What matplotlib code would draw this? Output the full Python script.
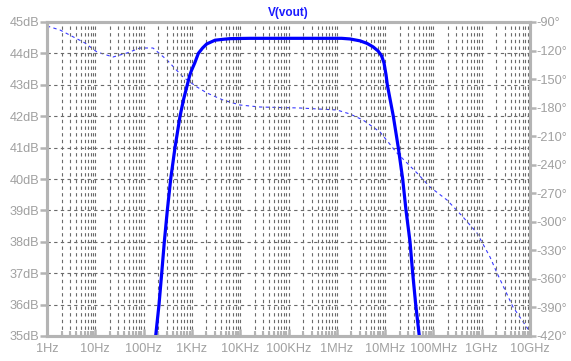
import matplotlib
matplotlib.use("Agg")
import matplotlib.pyplot as plt
import numpy as np
from matplotlib.ticker import FixedLocator, NullFormatter

plt.rcParams["font.family"] = ["Liberation Sans", "DejaVu Sans"]

# ---- data ----
mag_logf = [2.250, 2.319, 2.375, 2.429, 2.491, 2.561, 2.650, 2.754, 2.83, 2.905,
            2.955, 2.99, 3.06, 3.133, 3.22, 3.306, 3.478, 3.65, 3.789, 4.2, 5.24, 6.1,
            6.273, 6.48, 6.625, 6.749, 6.853, 6.925, 6.977, 7.019, 7.046, 7.170, 7.273,
            7.364, 7.433, 7.516, 7.571, 7.634, 7.708]
mag_db = [35.0, 36.0, 37.0, 38.0, 39.0, 40.0, 41.0, 42.0, 42.55, 43.0,
          43.3, 43.45, 43.7, 44.0, 44.17, 44.3, 44.42, 44.45, 44.47, 44.48, 44.48, 44.48,
          44.46, 44.40, 44.32, 44.21, 44.08, 43.93, 43.7, 43.32, 43.0, 42.0, 41.0,
          40.0, 39.0, 38.0, 37.0, 36.0, 35.0]

ph_x = [47, 60, 85, 97, 113, 127, 140, 153, 167, 183, 197, 207, 223, 240, 260,
        300, 337, 350, 363, 380, 397, 417, 430, 447, 463, 477, 490, 497, 513, 530]
ph_y = [26, 30, 43, 52, 57, 53, 48, 48, 60, 77, 87, 93, 100, 105, 107,
        108, 110, 114, 120, 132, 153, 173, 187, 200, 217, 233, 257, 273, 307, 332]
# convert read pixel positions to log-frequency / degrees
ph_logf = [(x - 47) / 48.3 for x in ph_x]
ph_deg = [-90 - (y - 22) * 330 / 314 for y in ph_y]

x_labels = ["1Hz", "10Hz", "100Hz", "1KHz", "10KHz", "100KHz", "1MHz",
            "10MHz", "100MHz", "1GHz", "10GHz"]
db_ticks = [35, 36, 37, 38, 39, 40, 41, 42, 43, 44, 45]
deg_ticks = [-420, -390, -360, -330, -300, -270, -240, -210, -180, -150, -120, -90]

mag_f = [10 ** v for v in mag_logf]
ph_f = [10 ** v for v in ph_logf]

# ---- figure ----
W, H = 571, 361
fig = plt.figure(figsize=(W / 100, H / 100), dpi=100)
L, R, T, B = 47, 530, 22, 336
ax = fig.add_axes([L / W, 1 - B / H, (R - L) / W, (B - T) / H])
ax2 = ax.twinx()

gray = "#b4b4b4"
txtgray = "#a0a0a0"
gridc = "#6a6a6a"
fs = 9.2

ax.set_xscale("log")
ax.set_xlim(1, 1e10)
ax.set_ylim(35, 45)
ax2.set_ylim(-420, -90)

ax.xaxis.set_major_locator(FixedLocator([10 ** i for i in range(11)]))
ax.set_xticklabels(x_labels)
minors = [m * 10 ** i for i in range(10) for m in range(2, 10)]
ax.xaxis.set_minor_locator(FixedLocator(minors))
ax.xaxis.set_minor_formatter(NullFormatter())
ax.set_yticks(db_ticks)
ax.set_yticklabels([f"{v}dB" for v in db_ticks])
ax2.set_yticks(deg_ticks)
ax2.set_yticklabels([f"{v}°" for v in deg_ticks])

ax.grid(which="major", axis="both", linestyle=(0, (3, 3)), color=gridc, linewidth=0.8)
ax.grid(which="minor", axis="x", linestyle=(0, (3, 3)), color=gridc, linewidth=0.8)
ax.set_axisbelow(True)

for a in (ax, ax2):
    for s in a.spines.values():
        s.set_color(gray)
        s.set_linewidth(2.2)

ax.tick_params(axis="x", which="major", direction="in", length=5, width=1.8,
               color=gray, labelcolor=txtgray, labelsize=fs, pad=5)
ax.tick_params(axis="x", which="minor", direction="in", length=3.5, width=1.5, color=gray)
ax.tick_params(axis="y", which="major", direction="out", length=5, width=1.8,
               color=gray, labelcolor=txtgray, labelsize=fs, pad=0.5)
ax2.tick_params(axis="y", which="major", direction="out", length=4, width=1.8,
                color=gray, labelcolor=txtgray, labelsize=fs, pad=0.3)

ax2.plot(ph_f, ph_deg, color="#3a3aff", linewidth=0.8, linestyle=(0, (3, 3)),
         clip_on=True, zorder=3)
ax.plot(mag_f, mag_db, color="#0000ff", linewidth=2.3, solid_capstyle="butt",
        solid_joinstyle="round", clip_on=True, zorder=2)
ax.set_zorder(ax2.get_zorder() + 1)
ax.patch.set_visible(False)

fig.text((L + R) / 2 / W, 1 - 13 / H, "V(vout)", color="#1a1aff", fontsize=8.5,
         fontweight="bold", ha="center", va="center")

fig.savefig("out.png", dpi=100)
